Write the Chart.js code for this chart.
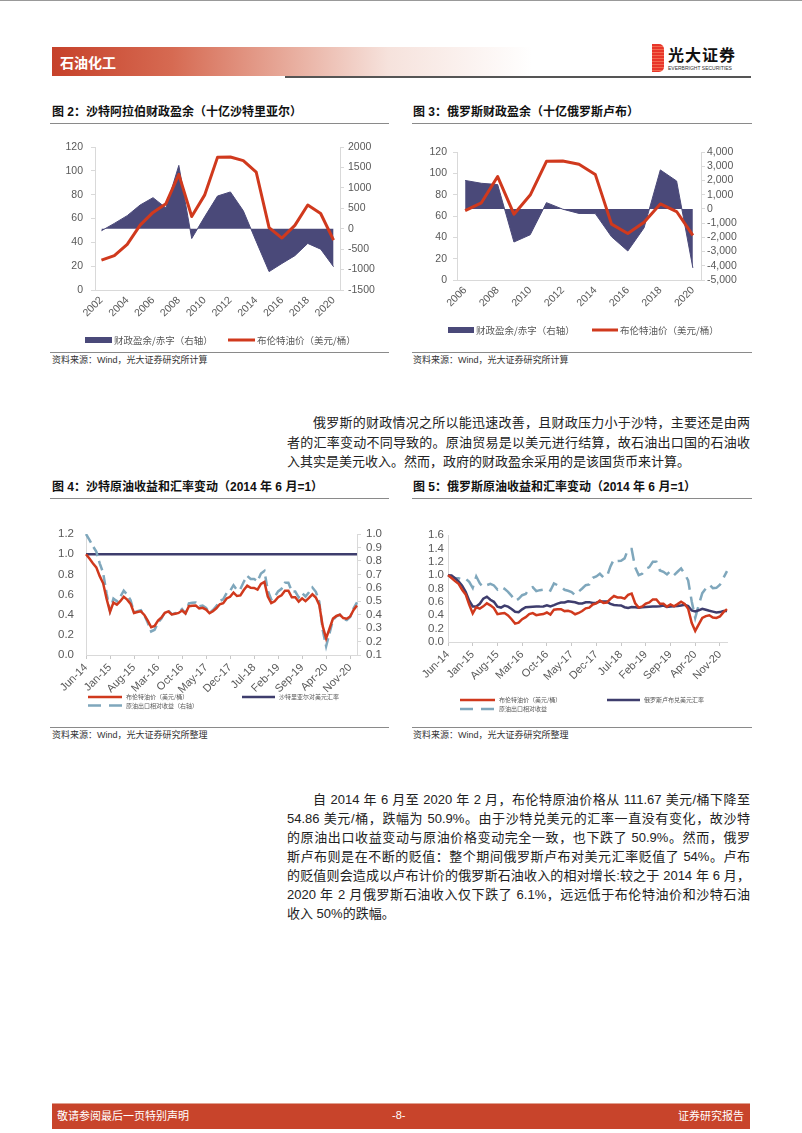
<!DOCTYPE html>
<html><head><meta charset="utf-8">
<script src="https://cdn.jsdelivr.net/npm/chart.js@4.4.0/dist/chart.umd.min.js"></script>
<style>
body{margin:0;width:802px;height:1133px;position:relative;background:#fff;overflow:hidden;font-family:"Liberation Sans","Noto Sans CJK SC",sans-serif;color:#222}
.a{position:absolute}
.ttl{position:absolute;font-size:12px;font-weight:bold;line-height:16px;color:#111;white-space:nowrap}
.hl{position:absolute;height:1px;background:#8a8a8a}
.src{position:absolute;font-size:9px;line-height:12px;color:#333;white-space:nowrap}
.ln{position:absolute;left:287px;width:463px;font-size:13px;line-height:18px;height:18px;color:#222;text-align:justify;text-align-last:justify;overflow:visible}
.ln.last{text-align:left;text-align-last:left}
.ln.ind{left:313px;width:437px}
canvas{position:absolute}
</style></head><body>
<div class="a" style="left:0;top:0;width:802px;height:1px;background:#999"></div>
<!-- header -->
<div class="a" style="left:52px;top:47px;width:480px;height:29px;background:linear-gradient(to right,#c6412a 0%,#d66a52 25%,#e8ad9e 50%,#f6e2dc 70%,#ffffff 100%)"></div>
<div class="a" style="left:60px;top:53px;font-size:14px;line-height:18px;font-weight:bold;color:#fff;font-family:'Noto Sans CJK SC'">石油化工</div>
<div class="a" style="left:285px;top:76px;width:466px;height:1.5px;background:#555"></div>
<div class="a" style="left:652px;top:44px;width:12px;height:28px;background:repeating-linear-gradient(to bottom,#e8362a 0px,#e8362a 2px,#f26a50 2px,#f26a50 3px);border-radius:0 5px 5px 0"></div>
<div class="a" style="left:668px;top:45px;font-size:16px;line-height:18px;font-weight:bold;color:#111;font-family:'Noto Sans CJK SC';letter-spacing:1px">光大证券</div>
<div class="a" style="left:668px;top:65px;font-size:5px;line-height:6px;color:#333;white-space:nowrap">EVERBRIGHT SECURITIES</div>

<!-- titles -->
<div class="ttl" style="left:52px;top:104px">图 2：沙特阿拉伯财政盈余（十亿沙特里亚尔）</div>
<div class="hl" style="left:50px;top:123px;width:339px"></div>
<div class="ttl" style="left:413px;top:104px">图 3：俄罗斯财政盈余（十亿俄罗斯卢布）</div>
<div class="hl" style="left:412px;top:123px;width:340px"></div>
<div class="hl" style="left:50px;top:352px;width:339px"></div>
<div class="src" style="left:52px;top:354px">资料来源：Wind，光大证券研究所计算</div>
<div class="hl" style="left:412px;top:352px;width:340px"></div>
<div class="src" style="left:413px;top:354px">资料来源：Wind，光大证券研究所计算</div>

<canvas id="c2" width="355" height="222" style="left:45px;top:130px"></canvas>
<canvas id="c3" width="355" height="222" style="left:410px;top:130px"></canvas>

<div class="ln ind" style="top:414px">俄罗斯的财政情况之所以能迅速改善，且财政压力小于沙特，主要还是由两</div>
<div class="ln" style="top:433.5px">者的汇率变动不同导致的。原油贸易是以美元进行结算，故石油出口国的石油收</div>
<div class="ln last" style="top:453px">入其实是美元收入。然而，政府的财政盈余采用的是该国货币来计算。</div>

<div class="ttl" style="left:52px;top:479px">图 4：沙特原油收益和汇率变动（2014 年 6 月=1）</div>
<div class="hl" style="left:50px;top:498px;width:339px"></div>
<div class="ttl" style="left:413px;top:479px">图 5：俄罗斯原油收益和汇率变动（2014 年 6 月=1）</div>
<div class="hl" style="left:412px;top:498px;width:340px"></div>
<div class="hl" style="left:50px;top:727px;width:339px"></div>
<div class="src" style="left:52px;top:729px">资料来源：Wind，光大证券研究所整理</div>
<div class="hl" style="left:412px;top:727px;width:340px"></div>
<div class="src" style="left:413px;top:729px">资料来源：Wind，光大证券研究所整理</div>

<canvas id="c4" width="355" height="215" style="left:45px;top:505px"></canvas>
<canvas id="c5" width="355" height="215" style="left:410px;top:505px"></canvas>

<div class="ln ind" style="top:791px">自 2014 年 6 月至 2020 年 2 月，布伦特原油价格从 111.67 美元/桶下降至</div>
<div class="ln" style="top:810px">54.86 美元/桶，跌幅为 50.9%。由于沙特兑美元的汇率一直没有变化，故沙特</div>
<div class="ln" style="top:829px">的原油出口收益变动与原油价格变动完全一致，也下跌了 50.9%。然而，俄罗</div>
<div class="ln" style="top:848px">斯卢布则是在不断的贬值：整个期间俄罗斯卢布对美元汇率贬值了 54%。卢布</div>
<div class="ln" style="top:867px">的贬值则会造成以卢布计价的俄罗斯石油收入的相对增长:较之于 2014 年 6 月，</div>
<div class="ln" style="top:886px">2020 年 2 月俄罗斯石油收入仅下跌了 6.1%，远远低于布伦特油价和沙特石油</div>
<div class="ln last" style="top:905px">收入 50%的跌幅。</div>

<!-- footer -->
<div class="a" style="left:52px;top:1103px;width:698px;height:25px;background:#c8442b;border-top:1px solid #e0a090"></div>
<div class="a" style="left:57px;top:1108px;font-size:11px;line-height:15px;color:#fff;font-family:'Noto Sans CJK SC'">敬请参阅最后一页特别声明</div>
<div class="a" style="left:392px;top:1108px;font-size:11px;line-height:15px;color:#fff">-8-</div>
<div class="a" style="left:678px;top:1108px;font-size:11px;line-height:15px;color:#fff;font-family:'Noto Sans CJK SC'">证券研究报告</div>

<script>
// ---------- data ----------
const saudiYears = ['2002','2003','2004','2005','2006','2007','2008','2009','2010','2011','2012','2013','2014','2015','2016','2017','2018','2019','2020'];
const saudiFiscal = [-50, 130, 320, 580, 760, 510, 1550, -240, 290, 800, 900, 440, -310, -1050, -850, -660, -360, -500, -930];
const saudiBrent = [25.0, 28.8, 38.3, 54.4, 65.1, 72.4, 97.0, 61.7, 79.6, 111.3, 111.6, 108.6, 99.0, 52.4, 43.6, 54.2, 71.3, 64.2, 41.8];

const russiaYears = ['2006','2007','2008','2009','2010','2011','2012','2013','2014','2015','2016','2017','2018','2019','2020'];
const russiaFiscal = [2000, 1800, 1710, -2330, -1820, 440, -20, -320, -330, -1960, -2960, -1330, 2740, 1960, -4150];
const russiaBrent = [65.1, 72.4, 97.0, 61.7, 79.6, 111.3, 111.6, 108.6, 99.0, 52.4, 43.6, 54.2, 71.3, 64.2, 41.8];

const months = ['Jun-14','Jul-14','Aug-14','Sep-14','Oct-14','Nov-14','Dec-14',
 'Jan-15','Feb-15','Mar-15','Apr-15','May-15','Jun-15','Jul-15','Aug-15','Sep-15','Oct-15','Nov-15','Dec-15',
 'Jan-16','Feb-16','Mar-16','Apr-16','May-16','Jun-16','Jul-16','Aug-16','Sep-16','Oct-16','Nov-16','Dec-16',
 'Jan-17','Feb-17','Mar-17','Apr-17','May-17','Jun-17','Jul-17','Aug-17','Sep-17','Oct-17','Nov-17','Dec-17',
 'Jan-18','Feb-18','Mar-18','Apr-18','May-18','Jun-18','Jul-18','Aug-18','Sep-18','Oct-18','Nov-18','Dec-18',
 'Jan-19','Feb-19','Mar-19','Apr-19','May-19','Jun-19','Jul-19','Aug-19','Sep-19','Oct-19','Nov-19','Dec-19',
 'Jan-20','Feb-20','Mar-20','Apr-20','May-20','Jun-20','Jul-20','Aug-20','Sep-20','Oct-20','Nov-20','Dec-20',
 'Jan-21'];

const brentIdx = [1.000,0.956,0.910,0.869,0.782,0.711,0.558,
 0.428,0.520,0.500,0.533,0.578,0.549,0.507,0.416,0.426,0.433,0.397,0.340,
 0.275,0.288,0.342,0.372,0.418,0.432,0.402,0.410,0.417,0.441,0.411,0.484,
 0.489,0.491,0.462,0.468,0.450,0.415,0.434,0.463,0.503,0.514,0.561,0.577,
 0.619,0.585,0.591,0.645,0.688,0.666,0.665,0.649,0.706,0.725,0.579,0.514,
 0.532,0.573,0.592,0.637,0.637,0.573,0.572,0.529,0.562,0.534,0.566,0.602,
 0.570,0.497,0.286,0.165,0.263,0.361,0.387,0.400,0.366,0.360,0.382,0.447,
 0.491];

const sarUsdIdx = [1,1,1,1,1,1,1,
 1,1,1,1,1,1,1,1,1,1,1,1,
 1,1,1,1,1,1,1,1,1,1,1,1,
 1,1,1,1,1,1,1,1,1,1,1,1,
 1,1,1,1,1,1,1,1,1,1,1,1,
 1,1,1,1,1,1,1,1,1,1,1,1,
 1,1,1,1,1,1,1,1,1,1,1,1,
 1];

const saudiExportIdx = [1.000,0.956,0.910,0.869,0.782,0.711,0.558,
 0.428,0.520,0.500,0.533,0.578,0.549,0.507,0.416,0.426,0.433,0.397,0.340,
 0.275,0.288,0.342,0.372,0.418,0.432,0.402,0.410,0.417,0.441,0.411,0.484,
 0.489,0.491,0.462,0.468,0.450,0.415,0.434,0.463,0.503,0.514,0.561,0.577,
 0.619,0.585,0.591,0.645,0.688,0.666,0.665,0.649,0.706,0.725,0.579,0.514,
 0.532,0.573,0.592,0.637,0.637,0.573,0.572,0.529,0.562,0.534,0.566,0.602,
 0.570,0.497,0.286,0.165,0.263,0.361,0.387,0.400,0.366,0.360,0.382,0.447,
 0.491];

const rubUsdIdx = [1.000,0.994,0.953,0.908,0.843,0.749,0.619,
 0.532,0.532,0.571,0.649,0.678,0.631,0.601,0.528,0.515,0.545,0.529,0.494,
 0.451,0.446,0.488,0.519,0.524,0.527,0.530,0.529,0.532,0.550,0.532,0.552,
 0.574,0.589,0.592,0.610,0.602,0.595,0.576,0.577,0.593,0.596,0.583,0.587,
 0.606,0.606,0.604,0.569,0.553,0.549,0.547,0.520,0.508,0.522,0.519,0.513,
 0.520,0.523,0.528,0.532,0.531,0.536,0.544,0.524,0.529,0.534,0.538,0.547,
 0.557,0.538,0.471,0.457,0.474,0.497,0.482,0.467,0.454,0.442,0.447,0.465,
 0.463];

const russiaExportIdx = [1.000,0.966,0.958,0.955,0.930,0.948,0.900,
 0.810,0.980,0.877,0.820,0.850,0.870,0.845,0.785,0.827,0.795,0.750,0.690,
 0.610,0.646,0.700,0.717,0.800,0.820,0.760,0.775,0.784,0.800,0.770,0.877,
 0.850,0.834,0.780,0.767,0.748,0.700,0.753,0.800,0.850,0.860,0.960,0.980,
 1.020,0.965,0.980,1.130,1.240,1.210,1.215,1.250,1.390,1.390,1.115,1.000,
 1.020,1.095,1.120,1.200,1.200,1.070,1.050,1.010,1.060,1.000,1.050,1.100,
 1.020,0.920,0.610,0.360,0.555,0.730,0.800,0.857,0.806,0.810,0.855,0.960,
 1.060];

// ---------- style ----------
const GRAY = '#595959', AXIS = '#d9d9d9';
const RED = '#d0391d', AREA = '#4a4979', NAVY = '#3e3d6d', LBLUE = '#7fa7bc';
Chart.defaults.font.family = '"Liberation Sans", "Noto Sans CJK SC", sans-serif';
Chart.defaults.animation = false;

function makeLegend(cfg) {
  return {
    id: 'posLegend',
    afterDraw(chart) {
      const ctx = chart.ctx;
      ctx.save();
      ctx.font = cfg.font; ctx.textBaseline = 'middle'; ctx.textAlign = 'left';
      cfg.items.forEach(it => {
        const ds = chart.data.datasets[it.ds];
        if (it.kind === 'rect') {
          ctx.fillStyle = ds.backgroundColor;
          ctx.fillRect(it.x, it.y - it.h / 2, it.w, it.h);
        } else {
          ctx.strokeStyle = ds.borderColor; ctx.lineWidth = it.lw;
          ctx.setLineDash(it.dash || []);
          ctx.beginPath(); ctx.moveTo(it.x, it.y); ctx.lineTo(it.x + it.w, it.y); ctx.stroke();
          ctx.setLineDash([]);
        }
        ctx.fillStyle = cfg.color;
        ctx.fillText(ds.label, it.x + it.w + cfg.gap, it.y);
      });
      ctx.restore();
    }
  };
}

function yAxis(pos, min, max, step, width, fmt, size, pad, ticks) {
  return {
    position: pos, min: min, max: max,
    ticks: { stepSize: step, autoSkip: false, color: GRAY, font: { size: size }, padding: pad, callback: fmt },
    grid: { drawOnChartArea: false, drawTicks: ticks, tickLength: ticks ? 4 : 0, color: AXIS },
    border: { display: true, color: AXIS },
    afterFit(s) { s.width = width; }
  };
}

function annualChart(id, labels, fiscal, brent, o) {
  new Chart(document.getElementById(id), {
    type: 'line',
    data: {
      labels: labels,
      datasets: [
        { label: '布伦特油价（美元/桶）', data: brent, yAxisID: 'y', borderColor: RED, backgroundColor: RED,
          borderWidth: 3, pointRadius: 0, tension: 0, order: 0, borderJoinStyle: 'round' },
        { label: '财政盈余/赤字（右轴）', data: fiscal, yAxisID: 'y1', borderColor: AREA, backgroundColor: AREA,
          borderWidth: 1, pointRadius: 0, tension: 0, fill: 'origin', order: 1 }
      ]
    },
    options: {
      responsive: false, devicePixelRatio: 1,
      layout: { padding: { top: o.padTop, bottom: o.padBottom, left: 0, right: 0 } },
      plugins: { legend: { display: false }, tooltip: { enabled: false } },
      scales: {
        x: {
          offset: true,
          grid: { display: true, drawOnChartArea: false, drawTicks: false, color: AXIS },
          border: { display: true, color: AXIS },
          ticks: { autoSkip: false, minRotation: 45, maxRotation: 45, color: GRAY, font: { size: 10.5 }, padding: 4,
            callback(v, i) { return i % 2 === 0 ? labels[i] : ''; } },
          afterFit(s) { s.height = o.xHeight; }
        },
        y: yAxis('left', o.lmin, o.lmax, o.lstep, o.lw, v => String(v), 10.5, o.lpad, true),
        y1: yAxis('right', o.rmin, o.rmax, o.rstep, o.rw, o.rfmt, 10.5, o.rpad, true)
      }
    },
    plugins: [makeLegend({ font: '9.5px "Noto Sans CJK SC", sans-serif', color: GRAY, gap: 2, items: o.legend })]
  });
}

annualChart('c2', saudiYears, saudiFiscal, saudiBrent, {
  padTop: 17, padBottom: 22, xHeight: 40, lmin: 0, lmax: 120, lstep: 20, lw: 50, lpad: 8,
  rmin: -1500, rmax: 2000, rstep: 500, rw: 60, rpad: 4, rfmt: v => String(v),
  legend: [ { ds: 1, kind: 'rect', x: 40, y: 210, w: 27, h: 6 }, { ds: 0, kind: 'line', x: 183, y: 210, w: 27, lw: 3 } ]
});
annualChart('c3', russiaYears, russiaFiscal, russiaBrent, {
  padTop: 22, padBottom: 32, xHeight: 40, lmin: 0, lmax: 120, lstep: 20, lw: 47, lpad: 6,
  rmin: -5000, rmax: 4000, rstep: 1000, rw: 64, rpad: 2, rfmt: v => Number(v).toLocaleString('en-US'),
  legend: [ { ds: 1, kind: 'rect', x: 38, y: 200, w: 26, h: 6 }, { ds: 0, kind: 'line', x: 182, y: 200, w: 26, lw: 3 } ]
});

function monthX(o) {
  return {
    grid: { display: true, drawOnChartArea: false, drawTicks: true, tickLength: 4,
      color: c => (c.index % 7 === 0 ? '#c8c8c8' : 'rgba(0,0,0,0)') },
    border: { display: true, color: AXIS },
    ticks: { autoSkip: false, minRotation: 45, maxRotation: 45, color: GRAY, font: { size: 11 }, padding: 2,
      callback(v, i) { return i % 7 === 0 ? months[i] : ''; } },
    afterFit(s) { s.height = o.xHeight; }
  };
}

new Chart(document.getElementById('c4'), {
  type: 'line',
  data: {
    labels: months,
    datasets: [
      { label: '沙特里亚尔对美元汇率', data: sarUsdIdx, yAxisID: 'y', borderColor: NAVY, borderWidth: 2.5, pointRadius: 0, order: 2 },
      { label: '原油出口相对收益（右轴）', data: saudiExportIdx, yAxisID: 'y1', borderColor: LBLUE, borderWidth: 2.5, pointRadius: 0, borderDash: [10, 5], order: 1 },
      { label: '布伦特油价（美元/桶）', data: brentIdx, yAxisID: 'y', borderColor: RED, borderWidth: 2.5, pointRadius: 0, order: 0 }
    ]
  },
  options: {
    responsive: false, devicePixelRatio: 1,
    layout: { padding: { top: 29, bottom: 25, left: 0, right: 0 } },
    plugins: { legend: { display: false }, tooltip: { enabled: false } },
    scales: {
      x: monthX({ xHeight: 40 }),
      y: yAxis('left', 0, 1.2, 0.2, 41, v => Number(v).toFixed(1), 11.5, 12, false),
      y1: yAxis('right', 0.1, 1.0, 0.1, 43, v => Number(v).toFixed(1), 11.5, 5, true)
    }
  },
  plugins: [makeLegend({ font: '6px "Noto Sans CJK SC", sans-serif', color: GRAY, gap: 4, items: [
    { ds: 2, kind: 'line', x: 43, y: 192, w: 34, lw: 2.5 },
    { ds: 0, kind: 'line', x: 197, y: 192, w: 33, lw: 2.5 },
    { ds: 1, kind: 'line', x: 43, y: 200.5, w: 34, lw: 2.5, dash: [13, 8] }
  ] })]
});

new Chart(document.getElementById('c5'), {
  type: 'line',
  data: {
    labels: months,
    datasets: [
      { label: '俄罗斯卢布兑美元汇率', data: rubUsdIdx, borderColor: NAVY, borderWidth: 2.5, pointRadius: 0, order: 1 },
      { label: '原油出口相对收益', data: russiaExportIdx, borderColor: LBLUE, borderWidth: 2.5, pointRadius: 0, borderDash: [13, 7], order: 2 },
      { label: '布伦特油价（美元/桶）', data: brentIdx, borderColor: RED, borderWidth: 2.5, pointRadius: 0, order: 0 }
    ]
  },
  options: {
    responsive: false, devicePixelRatio: 1,
    layout: { padding: { top: 30, bottom: 33, left: 0, right: 38 } },
    plugins: { legend: { display: false }, tooltip: { enabled: false } },
    scales: {
      x: monthX({ xHeight: 45 }),
      y: yAxis('left', 0, 1.6, 0.2, 38, v => Number(v).toFixed(1), 11.5, 4, false)
    }
  },
  plugins: [makeLegend({ font: '6px "Noto Sans CJK SC", sans-serif', color: GRAY, gap: 4, items: [
    { ds: 2, kind: 'line', x: 50, y: 195, w: 35, lw: 2.5 },
    { ds: 0, kind: 'line', x: 197, y: 195, w: 33, lw: 2.5 },
    { ds: 1, kind: 'line', x: 50, y: 204, w: 35, lw: 2.5, dash: [13, 8] }
  ] })]
});
</script>
</body></html>
